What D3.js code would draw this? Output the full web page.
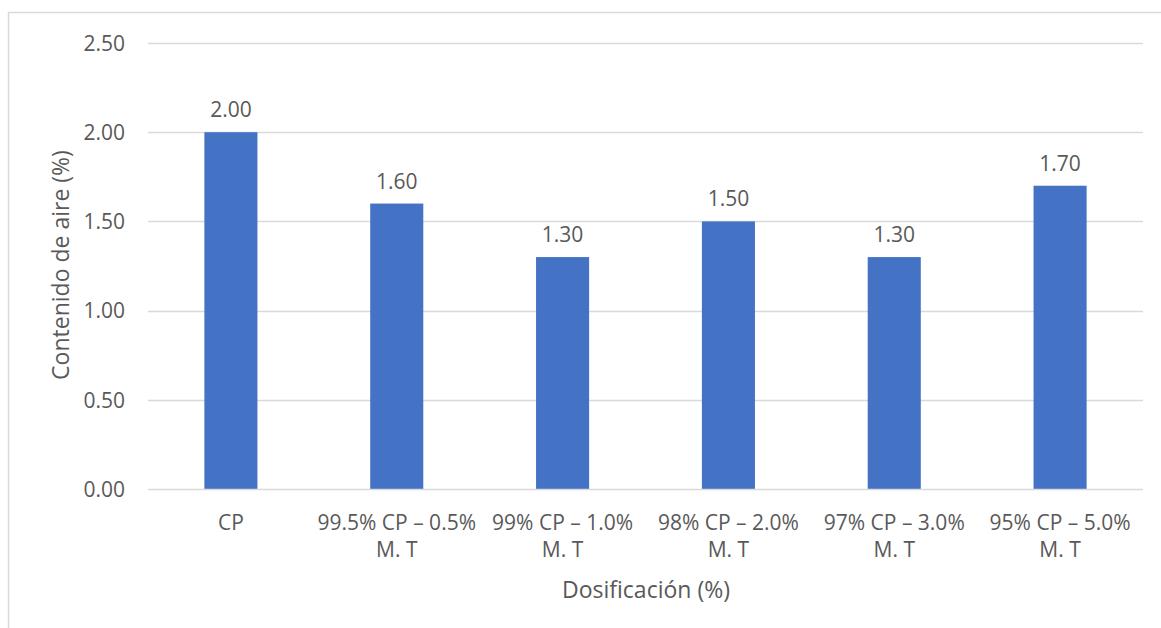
<!DOCTYPE html>
<html>
<head>
<meta charset="utf-8">
<script src="https://cdn.jsdelivr.net/npm/d3@7"></script>
<style>
  html, body { margin: 0; padding: 0; background: #fff; }
  svg text { font-family: "Open Sans", sans-serif; fill: #595959; }
</style>
</head>
<body>
<svg id="chart" width="1161" height="628"></svg>
<script>
// Air content per mix dosage
const categories = [
  ["CP"],
  ["99.5% CP – 0.5%", "M. T"],
  ["99% CP – 1.0%", "M. T"],
  ["98% CP – 2.0%", "M. T"],
  ["97% CP – 3.0%", "M. T"],
  ["95% CP – 5.0%", "M. T"]
];
const values = [2.00, 1.60, 1.30, 1.50, 1.30, 1.70];
const yTicks = [0, 0.5, 1.0, 1.5, 2.0, 2.5];
const yTitle = "Contenido de aire (%)";
const xTitle = "Dosificación (%)";

const svg = d3.select("#chart");
const W = 1161, H = 628;
const plotL = 148, plotR = 1143, plotT = 43, plotB = 489;

// outer chart frame
svg.append("rect")
  .attr("x", 8.5).attr("y", 12.5)
  .attr("width", W).attr("height", H)
  .attr("fill", "none").attr("stroke", "#d9d9d9").attr("stroke-width", 1.5);

const keys = categories.map((c, i) => i);
const x = d3.scaleBand().domain(keys).range([plotL, plotR]).paddingInner(0.68).paddingOuter(0.34);
const y = d3.scaleLinear().domain([0, 2.5]).range([plotB, plotT]);

// gridlines
svg.append("g").selectAll("line").data(yTicks.filter(t => t > 0)).join("line")
  .attr("x1", plotL).attr("x2", plotR)
  .attr("y1", d => Math.round(y(d)) + 0.5).attr("y2", d => Math.round(y(d)) + 0.5)
  .attr("stroke", "#d9d9d9").attr("stroke-width", 1.3);

// y axis labels
const yAxis = d3.axisLeft(y).tickValues(yTicks).tickFormat(d3.format(".2f")).tickSize(0).tickPadding(0);
const gy = svg.append("g").attr("transform", `translate(125,0)`).call(yAxis);
gy.select(".domain").remove();
gy.selectAll("text").style("font-size", "21px").attr("fill", "#595959").attr("dy", "0.35em");

// bars
svg.append("g").selectAll("rect").data(values).join("rect")
  .attr("x", (d, i) => x(i))
  .attr("width", x.bandwidth())
  .attr("y", d => y(d))
  .attr("height", d => y(0) - y(d))
  .attr("fill", "#4472c4");

// baseline
svg.append("line")
  .attr("x1", plotL).attr("x2", plotR)
  .attr("y1", plotB + 0.5).attr("y2", plotB + 0.5)
  .attr("stroke", "#d9d9d9").attr("stroke-width", 1.5);

// value labels
svg.append("g").selectAll("text").data(values).join("text")
  .attr("x", (d, i) => x(i) + x.bandwidth() / 2)
  .attr("y", d => y(d) - 15)
  .attr("text-anchor", "middle")
  .style("font-size", "21px")
  .text(d => d3.format(".2f")(d));

// category labels
const xAxis = d3.axisBottom(x).tickSize(0).tickFormat(() => "");
const gx = svg.append("g").attr("transform", `translate(0,${plotB})`).call(xAxis);
gx.select(".domain").remove();
gx.selectAll(".tick").each(function(i) {
  const t = d3.select(this).append("text")
    .attr("text-anchor", "middle")
    .attr("fill", "#595959")
    .style("font-size", "21px")
    .style("font-family", '"Open Sans", sans-serif');
  categories[i].forEach((line, k) => {
    t.append("tspan").attr("x", 0).attr("y", 41 + k * 27).text(line);
  });
});

// axis titles
svg.append("text")
  .attr("x", 646).attr("y", 598)
  .attr("text-anchor", "middle")
  .style("font-size", "23px")
  .text(xTitle);

svg.append("text")
  .attr("transform", `translate(69,265) rotate(-90)`)
  .attr("text-anchor", "middle")
  .style("font-size", "23px")
  .text(yTitle);
</script>
</body>
</html>
